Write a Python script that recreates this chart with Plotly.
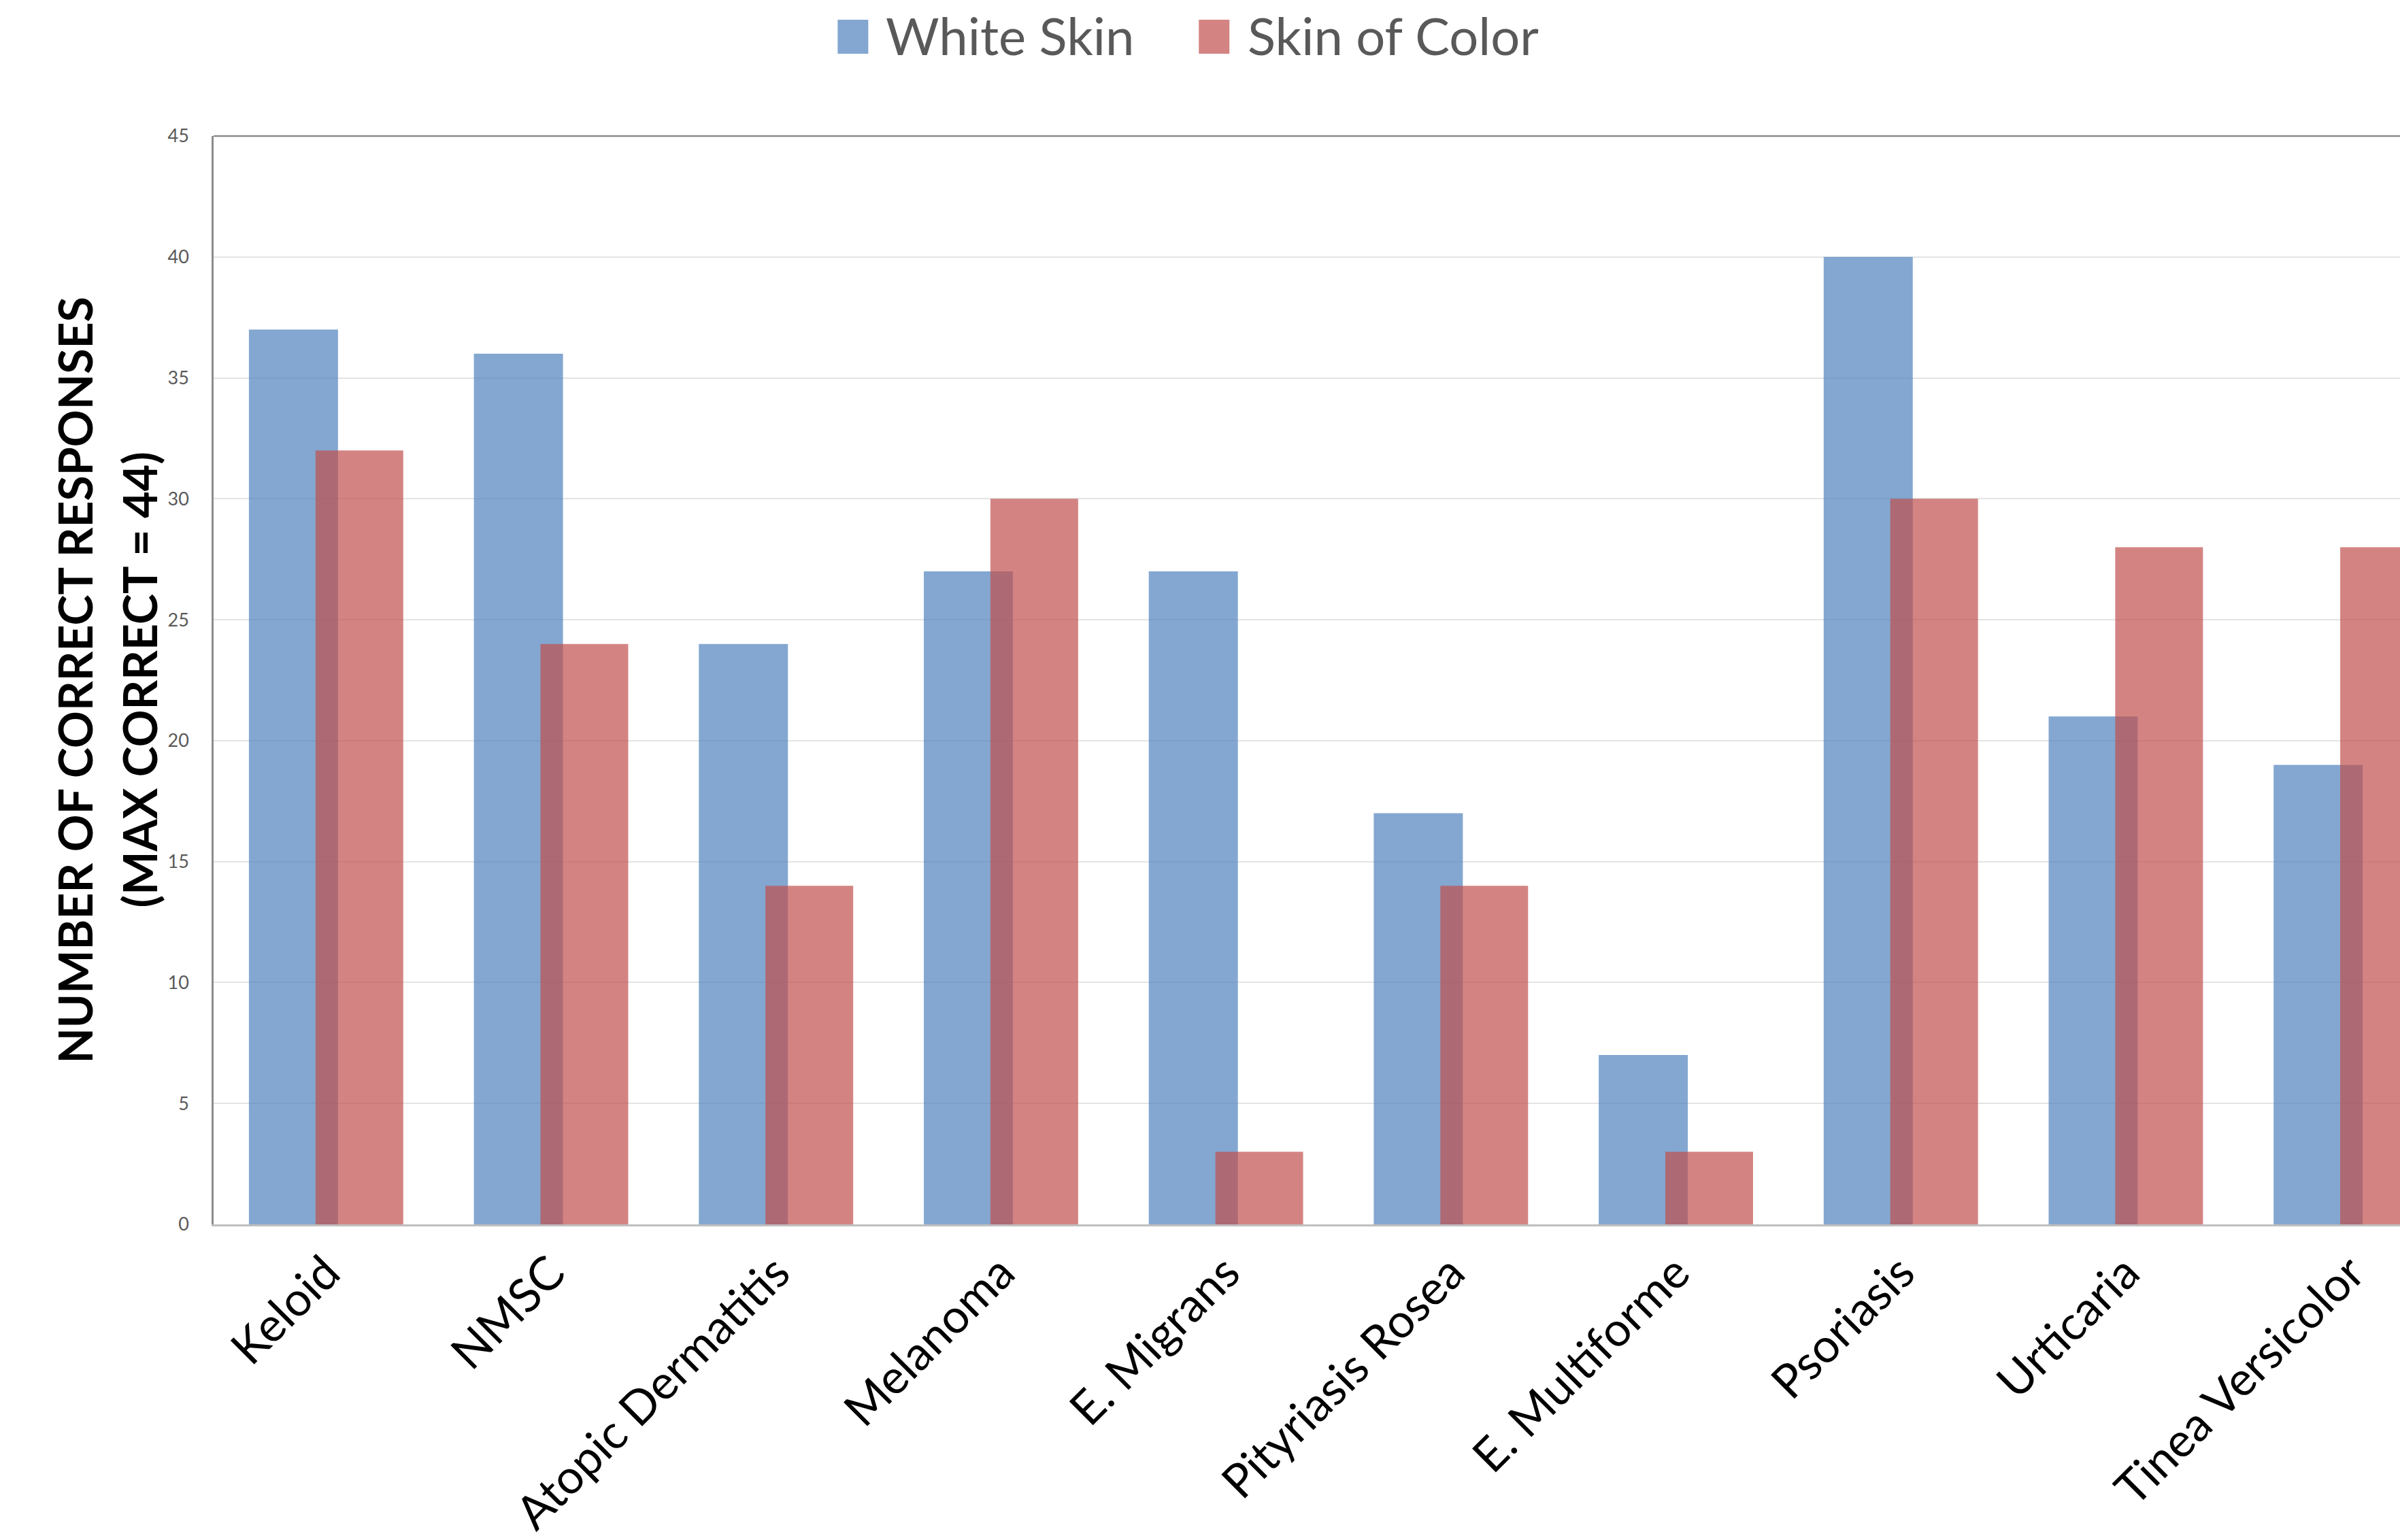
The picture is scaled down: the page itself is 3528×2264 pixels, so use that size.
import plotly.graph_objects as go

categories = ["Keloid", "NMSC", "Atopic Dermatitis", "Melanoma", "E. Migrans",
              "Pityriasis Rosea", "E. Multiforme", "Psoriasis", "Urticaria", "Tinea Versicolor"]
white_skin = [37, 36, 24, 27, 27, 17, 7, 40, 21, 19]
skin_of_color = [32, 24, 14, 30, 3, 14, 3, 30, 28, 28]
series_names = ["White Skin", "Skin of Color"]
y_ticks = [0, 5, 10, 15, 20, 25, 30, 35, 40, 45]
y_title_lines = ["NUMBER OF CORRECT RESPONSES", "(MAX CORRECT = 44)"]

BLUE = "rgba(79,129,189,0.7)"
RED = "rgba(192,80,77,0.7)"
FONT = "Lato"

W, H = 3528, 2264
ML, MT, MB, MR = 313.5, 200, 464, 0
PW = W - ML - MR
PH = H - MT - MB

def px(x):
    return (x - ML) / PW

def py(y):
    return (H - MB - y) / PH

fig = go.Figure()
fig.add_trace(go.Bar(x=categories, y=white_skin, name=series_names[0],
                     marker=dict(color=BLUE, line=dict(width=0)),
                     offset=-0.343, width=0.396, showlegend=False))
fig.add_trace(go.Bar(x=categories, y=skin_of_color, name=series_names[1],
                     marker=dict(color=RED, line=dict(width=0)),
                     offset=-0.047, width=0.39, showlegend=False))

# manual legend
legend_items = [(series_names[0], BLUE, 1231, 1276, 1300),
                (series_names[1], RED, 1762, 1807, 1832)]
shapes = []
annotations = []
for name, col, x0, x1, tx in legend_items:
    shapes.append(dict(type="rect", xref="paper", yref="paper",
                       x0=px(x0), x1=px(x1), y0=py(79), y1=py(29),
                       fillcolor=col, line=dict(width=0)))
    annotations.append(dict(xref="paper", yref="paper", x=px(tx), y=py(52),
                            xanchor="left", yanchor="middle", showarrow=False,
                            text=name, font=dict(family=FONT, size=76, color="#595959")))

# top frame line
shapes.append(dict(type="line", xref="paper", yref="paper", x0=0, x1=1, y0=1, y1=1,
                   line=dict(color="#8c8c8c", width=2.5)))

for txt, cx in zip(y_title_lines, [108, 203]):
    annotations.append(dict(xref="paper", yref="paper", x=px(cx), y=0.5,
                            xanchor="center", yanchor="middle", showarrow=False, textangle=-90,
                            text="<b>" + txt + "</b>",
                            font=dict(family=FONT, size=68, color="#000000")))

fig.update_layout(
    width=W, height=H,
    margin=dict(l=ML, r=MR, t=MT, b=MB, autoexpand=False),
    paper_bgcolor="white", plot_bgcolor="white",
    barmode="overlay",
    showlegend=False,
    shapes=shapes, annotations=annotations,
    xaxis=dict(range=[-0.5, -0.5 + PW / 330.75], showgrid=False,
               showline=True, linecolor="#bfbfbf", linewidth=3,
               tickangle=-45, tickfont=dict(family=FONT, size=69, color="#000000"),
               ticks="", automargin=False),
    yaxis=dict(range=[0, 45], tickvals=y_ticks, showgrid=True, gridcolor="#e4e4e4", gridwidth=2,
               zeroline=False, showline=True, linecolor="#8c8c8c", linewidth=2.5,
               tickfont=dict(family=FONT, size=27, color="#595959"),
               ticks="", ticklabelstandoff=28, automargin=False),
)

fig.write_html("out.html")
